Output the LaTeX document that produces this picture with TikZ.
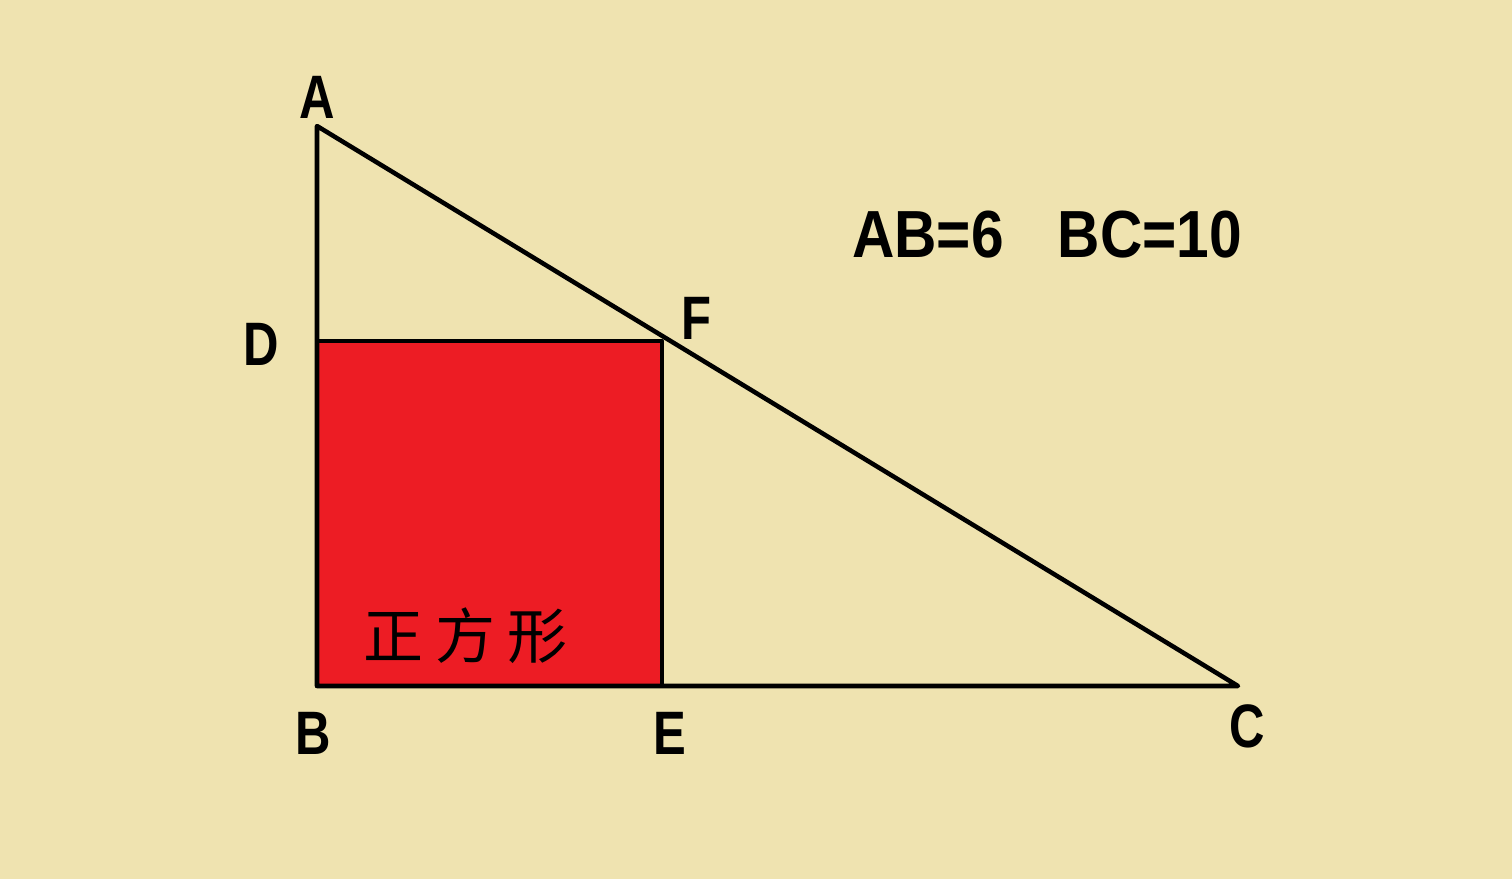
\documentclass[tikz,border=0pt]{standalone}
\usepackage{fontspec}
\setmainfont{Liberation Sans}
\newfontfamily\cjk{Noto Sans CJK SC}
\definecolor{paper}{RGB}{239,227,176}
\definecolor{squarered}{RGB}{237,28,36}
\tikzset{
  lbl/.style={inner sep=0pt,font=\fontsize{46}{46}\selectfont\bfseries,xscale=0.8},
  edge/.style={line width=3.4pt,line cap=round,line join=round}
}
\begin{document}
\begin{tikzpicture}[x=0.75pt,y=0.75pt,yscale=-1,xscale=1]
% background
\fill[paper] (0,0) rectangle (1512,879);
\useasboundingbox (0,0) rectangle (1512,879);

% points
\coordinate (A) at (317,126);
\coordinate (B) at (317,686);
\coordinate (C) at (1238,686);
\coordinate (D) at (317,341);
\coordinate (E) at (662,686);
\coordinate (F) at (662,341);

% square
\draw[edge,fill=squarered] (D) -- (F) -- (E) -- (B) -- cycle;
% triangle
\draw[edge] (A) -- (B) -- (C) -- cycle;

% Text Node
\node[lbl] (lA) at (317,97) {A};
\node[lbl] (lB) at (313,733) {B};
\node[lbl] (lC) at (1247,726) {C};
\node[lbl] (lD) at (261,344) {D};
\node[lbl] (lE) at (670,733) {E};
\node[lbl] (lF) at (696,318) {F};
\node[inner sep=0pt,font=\fontsize{50}{50}\selectfont\bfseries,xscale=0.88] (given) at (1047,235) {AB=6\hspace{46pt}BC=10};
\node[inner sep=0pt,font=\cjk\fontsize{45}{45}\selectfont] (name) at (465,636) {正\hspace{9pt}方\hspace{9pt}形};

\end{tikzpicture}
\end{document}
